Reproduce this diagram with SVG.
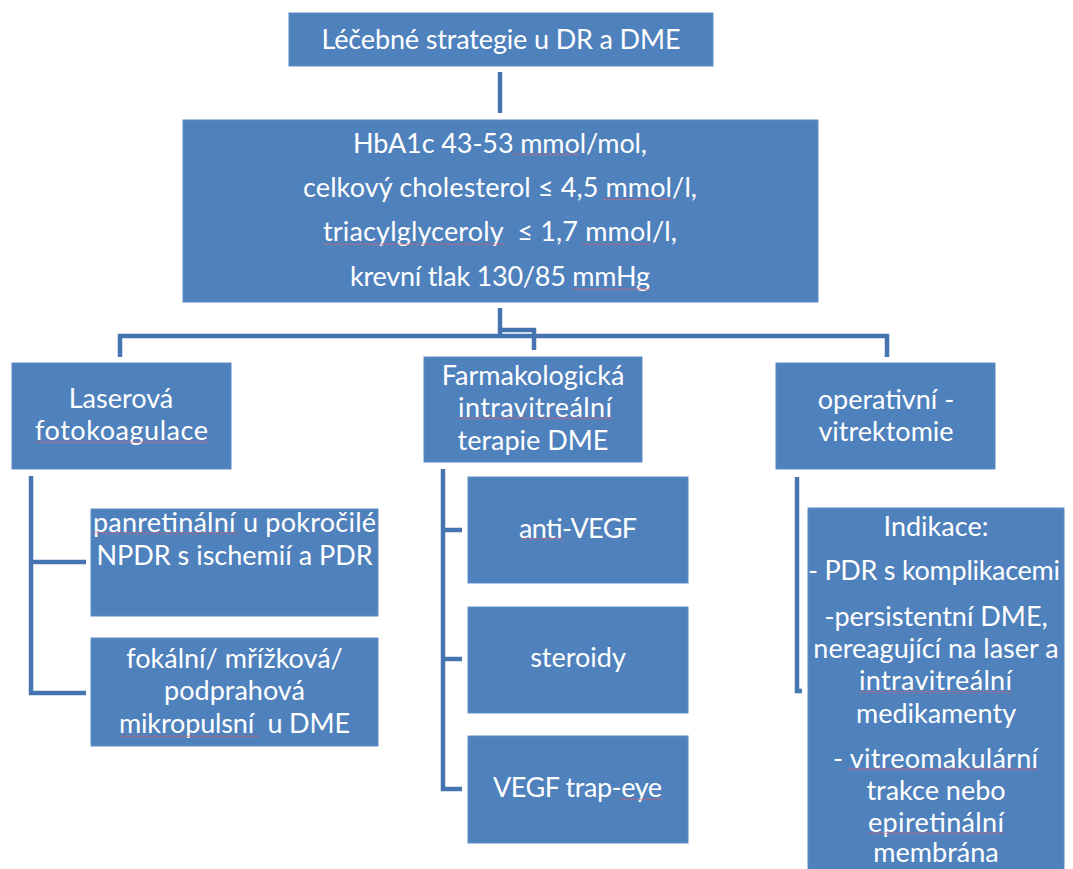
<svg xmlns="http://www.w3.org/2000/svg" width="1073" height="869" viewBox="0 0 1073 869">
<defs>
<pattern id="wave" width="4" height="3" patternUnits="userSpaceOnUse">
<path d="M0,2.2 L1,1.2 L2,0.8 L3,1.2 L4,2.2" fill="none" stroke="#D8606E" stroke-width="0.8"/>
</pattern>
</defs>
<style>
.box{fill:#4F81BD;stroke:#5E8DC6;stroke-width:1}
.t{font-family:Lato,"Open Sans","Liberation Sans",sans-serif;font-size:27px;fill:#FFFFFF;text-anchor:middle}
.sq{fill:url(#wave)}
.con{fill:none;stroke:#4674B0;stroke-width:4.5;stroke-linejoin:miter}
</style>
<rect width="1073" height="869" fill="#FFFFFF"/>
<g id="connectors">
<path class="con" d="M500,72 V113"/>
<path class="con" d="M500,308 V336"/>
<path class="con" d="M500,330 H534 V350"/>
<path class="con" d="M120,357 V336 H887 V357"/>
<path class="con" d="M31,476 V693 H86 M31,562 H86"/>
<path class="con" d="M443,469 V789 H462 M443,530 H462 M443,659 H462"/>
<path class="con" d="M797,477 V691 H802"/>
</g>
<g id="n-title">
<rect class="box" x="289" y="13" width="424" height="53"/>
<text class="t" x="501" y="49" textLength="359">Léčebné strategie u DR a DME</text>
</g>
<g id="n-targets">
<rect class="box" x="183" y="120" width="635" height="182"/>
<text class="t" x="500" y="153" textLength="294">HbA1c 43-53 mmol/mol,</text>
<text class="t" x="500" y="197" textLength="394">celkový cholesterol ≤ 4,5 mmol/l,</text>
<text class="t" x="500" y="241" textLength="354" xml:space="preserve">triacylglyceroly  ≤ 1,7 mmol/l,</text>
<text class="t" x="500" y="286" textLength="300">krevní tlak 130/85 mmHg</text>
<rect class="sq" x="513" y="153" width="65" height="3"/>
<rect class="sq" x="603" y="197" width="69" height="3"/>
<rect class="sq" x="323" y="242" width="181" height="3"/>
<rect class="sq" x="582" y="242" width="68" height="3"/>
<rect class="sq" x="573" y="287" width="77" height="3"/>
</g>
<g id="n-laser">
<rect class="box" x="12" y="363" width="219" height="106"/>
<text class="t" x="121" y="408">Laserová</text>
<text class="t" x="121.5" y="440" textLength="173">fotokoagulace</text>
<rect class="sq" x="35" y="440" width="173" height="3"/>
</g>
<g id="n-farma">
<rect class="box" x="424" y="357" width="218" height="105"/>
<text class="t" x="533" y="385">Farmakologická</text>
<text class="t" x="535" y="417" textLength="154">intravitreální</text>
<text class="t" x="533" y="450">terapie DME</text>
<rect class="sq" x="458" y="417" width="154" height="3"/>
</g>
<g id="n-oper">
<rect class="box" x="776" y="363" width="219" height="106"/>
<text class="t" x="886" y="409">operativní -</text>
<text class="t" x="886" y="441">vitrektomie</text>
</g>
<g id="n-panret">
<rect class="box" x="91" y="509" width="287" height="107"/>
<text class="t" x="234.5" y="532" textLength="283">panretinální u pokročilé</text>
<text class="t" x="234.5" y="565">NPDR s ischemií a PDR</text>
<rect class="sq" x="93" y="532" width="145" height="3"/>
</g>
<g id="n-fokal">
<rect class="box" x="91" y="638" width="287" height="108"/>
<text class="t" x="234.5" y="668">fokální/ mřížková/</text>
<text class="t" x="234.5" y="700">podprahová</text>
<text class="t" x="234.5" y="733" textLength="231" xml:space="preserve">mikropulsní  u DME</text>
<rect class="sq" x="119" y="734" width="140" height="3"/>
</g>
<g id="n-antivegf">
<rect class="box" x="468" y="477" width="220" height="106"/>
<text class="t" x="578" y="538" textLength="118">anti-VEGF</text>
<rect class="sq" x="519" y="538" width="45" height="3"/>
</g>
<g id="n-steroidy">
<rect class="box" x="468" y="607" width="220" height="106"/>
<text class="t" x="578" y="667">steroidy</text>
</g>
<g id="n-trap">
<rect class="box" x="468" y="736" width="220" height="107"/>
<text class="t" x="577.5" y="797" textLength="169">VEGF trap-eye</text>
<rect class="sq" x="620" y="797" width="42" height="3"/>
</g>
<g id="n-indikace">
<rect class="box" x="808" y="508" width="256" height="370"/>
<text class="t" x="936" y="536">Indikace:</text>
<text class="t" x="934" y="580" textLength="252">- PDR s komplikacemi</text>
<text class="t" x="936" y="626">-persistentní DME,</text>
<text class="t" x="936" y="658">nereagující na laser a</text>
<text class="t" x="935.5" y="690" textLength="153">intravitreální</text>
<text class="t" x="936" y="723">medikamenty</text>
<text class="t" x="935.5" y="768" textLength="205">- vitreomakulární</text>
<text class="t" x="936" y="800">trakce nebo</text>
<text class="t" x="936" y="832" textLength="136">epiretinální</text>
<text class="t" x="936" y="862">membrána</text>
<rect class="sq" x="859" y="691" width="153" height="3"/>
<rect class="sq" x="848" y="768" width="190" height="3"/>
<rect class="sq" x="868" y="832" width="136" height="3"/>
</g>
</svg>
